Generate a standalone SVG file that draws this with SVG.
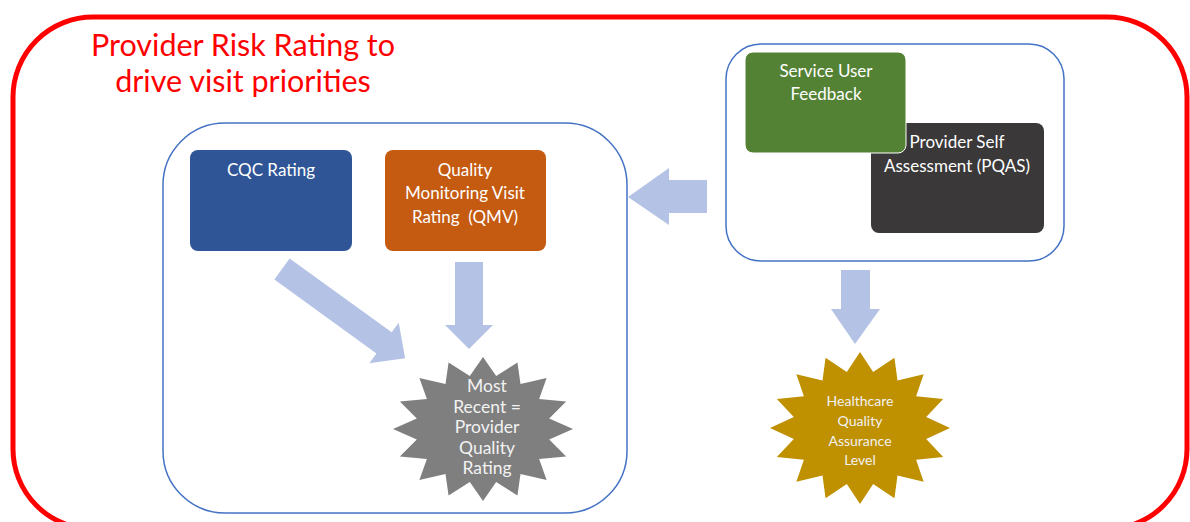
<svg xmlns="http://www.w3.org/2000/svg" width="1190" height="522" viewBox="0 0 1190 522">
<defs>
<style>
.t{font-family:Lato,"Liberation Sans",sans-serif;text-anchor:middle;}
.w{fill:#ffffff;font-size:17px;}
.s{fill:#F2F2F2;font-size:17.5px;}
.g{fill:#F2F2F2;font-size:14px;}
.arrow{fill:#B4C3E5;}
.frame{fill:none;stroke:#4472C4;stroke-width:1.5;}
</style>
<polygon id="star16" points="0,-1 0.1463,-0.7356 0.38268,-0.92388 0.4167,-0.6236 0.70711,-0.70711 0.6236,-0.4167 0.92388,-0.38268 0.7356,-0.1463 1,0 0.7356,0.1463 0.92388,0.38268 0.6236,0.4167 0.70711,0.70711 0.4167,0.6236 0.38268,0.92388 0.1463,0.7356 0,1 -0.1463,0.7356 -0.38268,0.92388 -0.4167,0.6236 -0.70711,0.70711 -0.6236,0.4167 -0.92388,0.38268 -0.7356,0.1463 -1,0 -0.7356,-0.1463 -0.92388,-0.38268 -0.6236,-0.4167 -0.70711,-0.70711 -0.4167,-0.6236 -0.38268,-0.92388 -0.1463,-0.7356"/>
</defs>
<rect width="1190" height="522" fill="#ffffff"/>
<g id="outer">
<rect x="13" y="17" width="1174" height="512" rx="80" ry="80" fill="none" stroke="#FF0000" stroke-width="5"/>
<text class="t" x="243" y="56" font-size="30.5" fill="#FF0000">Provider Risk Rating to</text>
<text class="t" x="243" y="92" font-size="30.5" fill="#FF0000">drive visit priorities</text>
</g>
<g id="left-group">
<rect class="frame" x="163" y="123" width="464" height="390" rx="62" ry="62"/>
</g>
<g id="right-group">
<rect class="frame" x="726" y="44" width="338" height="217" rx="35" ry="35"/>
</g>
<g id="cqc">
<rect x="190" y="150" width="162" height="101" rx="8" fill="#2F5597"/>
<text class="t w" x="271" y="176">CQC Rating</text>
</g>
<g id="qmv">
<rect x="385" y="150" width="161" height="101" rx="8" fill="#C55A11"/>
<text class="t w" x="465" y="176">Quality</text>
<text class="t w" x="465" y="199">Monitoring Visit</text>
<text class="t w" x="465" y="223" style="white-space:pre">Rating  (QMV)</text>
</g>
<g id="pqas">
<rect x="871" y="123" width="173" height="110" rx="8" fill="#3A3838"/>
<text class="t w" x="957" y="148">Provider Self</text>
<text class="t w" x="957" y="172">Assessment (PQAS)</text>
</g>
<g id="feedback">
<rect x="745" y="52" width="161" height="101" rx="8" fill="#548235" stroke="#ffffff" stroke-width="1"/>
<text class="t w" x="826" y="77">Service User</text>
<text class="t w" x="826" y="100">Feedback</text>
</g>
<g id="provider-quality-rating">
<use href="#star16" fill="#7F7F7F" transform="translate(483,429) scale(90,72)"/>
<text class="t s" x="487" y="392">Most</text>
<text class="t s" x="487" y="413">Recent =</text>
<text class="t s" x="487" y="433">Provider</text>
<text class="t s" x="487" y="454">Quality</text>
<text class="t s" x="487" y="474">Rating</text>
</g>
<g id="assurance-level">
<use href="#star16" fill="#BF9000" transform="translate(860,428) scale(90,76)"/>
<text class="t g" x="860" y="406">Healthcare</text>
<text class="t g" x="860" y="426">Quality</text>
<text class="t g" x="860" y="446">Assurance</text>
<text class="t g" x="860" y="465">Level</text>
</g>
<g id="connectors">
<polygon class="arrow" points="0,-13 126,-13 126,-25 152,0 126,25 126,13 0,13" transform="translate(282,269) rotate(35.9)"/>
<polygon class="arrow" points="455,262 483,262 483,325 493,325 469,349 445,325 455,325"/>
<polygon class="arrow" points="707,180 669,180 669,168 628,197 669,225 669,213 707,213"/>
<polygon class="arrow" points="841,270 870,270 870,309 880,309 855,344 831,309 841,309"/>
</g>
</svg>
